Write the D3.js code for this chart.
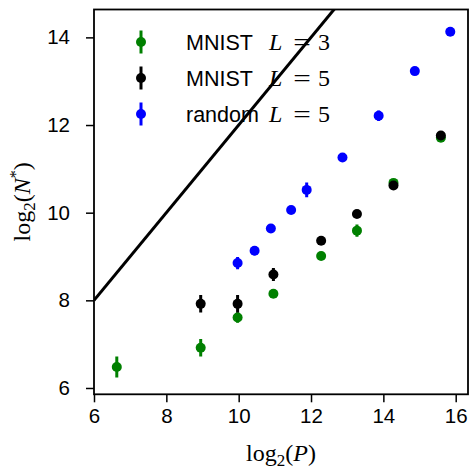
<!DOCTYPE html>
<html><head><meta charset="utf-8">
<script src="https://cdn.jsdelivr.net/npm/d3@7/dist/d3.min.js"></script>
<style>body{margin:0;background:#fff}svg{display:block}</style>
</head><body>
<svg id="c" width="469" height="470"></svg>
<script>
// ---- data ----
const mnist3X = [6.63, 8.95, 9.97, 10.96, 12.28, 13.27, 14.28, 15.59];
const mnist3Y = [6.48, 6.92, 7.61, 8.15, 9.01, 9.59, 10.68, 11.71];
const mnist3E = [0.24, 0.20, 0.12, 0.08, 0.06, 0.14, 0.06, 0.05];

const mnist5X = [8.95, 9.97, 10.96, 12.28, 13.27, 14.28, 15.59];
const mnist5Y = [7.92, 7.92, 8.59, 9.36, 9.97, 10.62, 11.76];
const mnist5E = [0.20, 0.20, 0.15, 0.06, 0.06, 0.06, 0.08];

const randX = [9.97, 10.44, 10.89, 11.45, 11.88, 12.87, 13.87, 14.87, 15.85];
const randY = [8.85, 9.13, 9.64, 10.06, 10.52, 11.26, 12.21, 13.23, 14.13];
const randE = [0.14, 0.10, 0.08, 0.06, 0.17, 0.08, 0.12, 0.06, 0.07];

const refLineX = [6, 16];
const refLineY = [8, 18];

const xTicks = [6, 8, 10, 12, 14, 16];
const yTicks = [6, 8, 10, 12, 14];

const seriesNames = ["MNIST", "MNIST", "random"];
const seriesL = ["3", "5", "5"];
const seriesColors = ["#008000", "#000000", "#0000ff"];

// ---- chart ----
const svg = d3.select("#c");
const L = 94, R = 468, T = 9.5, B = 394.3;
const x = d3.scaleLinear().domain([6, 16.34]).range([L, R]);
const y = d3.scaleLinear().domain([5.856, 14.636]).range([B, T]);

svg.append("defs").append("clipPath").attr("id", "clip")
  .append("rect").attr("x", L).attr("y", T).attr("width", R - L).attr("height", B - T);

const tickFont = "'Liberation Sans', Arial, sans-serif";
const serif = "'Liberation Serif', 'Times New Roman', serif";

// reference line
svg.append("path")
  .datum(refLineX.map((d, i) => [d, refLineY[i]]))
  .attr("clip-path", "url(#clip)")
  .attr("d", d3.line().x(d => x(d[0])).y(d => y(d[1])))
  .attr("fill", "none").attr("stroke", "#000").attr("stroke-width", 3);

// series
const series = [
  {X: mnist3X, Y: mnist3Y, E: mnist3E, c: seriesColors[0]},
  {X: mnist5X, Y: mnist5Y, E: mnist5E, c: seriesColors[1]},
  {X: randX, Y: randY, E: randE, c: seriesColors[2]}
];
const plot = svg.append("g").attr("clip-path", "url(#clip)");
series.forEach(s => {
  const g = plot.append("g");
  const pts = s.X.map((d, i) => ({x: d, y: s.Y[i], e: s.E[i]}));
  g.selectAll("line").data(pts).join("line")
    .attr("x1", d => x(d.x)).attr("x2", d => x(d.x))
    .attr("y1", d => y(d.y - d.e)).attr("y2", d => y(d.y + d.e))
    .attr("stroke", s.c).attr("stroke-width", 3);
  g.selectAll("circle").data(pts).join("circle")
    .attr("cx", d => x(d.x)).attr("cy", d => y(d.y)).attr("r", 5)
    .attr("fill", s.c);
});

// axes
const xa = svg.append("g").attr("transform", `translate(0,${B})`)
  .call(d3.axisBottom(x).tickValues(xTicks).tickSize(8).tickPadding(6).tickFormat(d3.format("d")));
const ya = svg.append("g").attr("transform", `translate(${L},0)`)
  .call(d3.axisLeft(y).tickValues(yTicks).tickSize(8).tickPadding(16).tickFormat(d3.format("d")));
[xa, ya].forEach(a => {
  a.select(".domain").remove();
  a.selectAll(".tick line").attr("stroke", "#000").attr("stroke-width", 1.5);
  a.selectAll(".tick text").attr("font-family", tickFont).attr("font-size", 20.5).attr("fill", "#000");
});

// frame
svg.append("rect").attr("x", L).attr("y", T).attr("width", R - L).attr("height", B - T)
  .attr("fill", "none").attr("stroke", "#000").attr("stroke-width", 1.8);

// axis labels
const xl = svg.append("text").attr("x", (L + R) / 2).attr("y", 461)
  .attr("text-anchor", "middle").attr("font-family", serif).attr("font-size", 24);
xl.append("tspan").text("log");
xl.append("tspan").attr("font-size", 17).attr("dy", 5).text("2");
xl.append("tspan").attr("dy", -5).text("(");
xl.append("tspan").attr("font-style", "italic").text("P");
xl.append("tspan").text(")");

const yl = svg.append("text").attr("transform", `translate(30,${(T + B) / 2}) rotate(-90)`)
  .attr("text-anchor", "middle").attr("font-family", serif).attr("font-size", 24);
yl.append("tspan").text("log");
yl.append("tspan").attr("font-size", 17).attr("dy", 5).text("2");
yl.append("tspan").attr("dy", -5).text("(");
yl.append("tspan").attr("font-style", "italic").text("N");
yl.append("tspan").attr("font-size", 16).attr("dy", -9).text("*");
yl.append("tspan").attr("dy", 9).text(")");

// legend
const lg = svg.append("g");
seriesNames.forEach((name, i) => {
  const cy = 42 + i * 36;
  lg.append("line").attr("x1", 141).attr("x2", 141).attr("y1", cy - 11.5).attr("y2", cy + 11.5)
    .attr("stroke", seriesColors[i]).attr("stroke-width", 3);
  lg.append("circle").attr("cx", 141).attr("cy", cy).attr("r", 5).attr("fill", seriesColors[i]);
  lg.append("text").attr("x", 186).attr("y", cy + 8).attr("font-size", 21.5)
    .attr("font-family", tickFont).text(name);
  lg.append("text").attr("x", 269).attr("y", cy + 8).attr("font-size", 24)
    .attr("font-family", serif).attr("font-style", "italic").text("L");
  lg.append("text").attr("x", 302).attr("y", cy + 8).attr("font-size", 24)
    .attr("text-anchor", "middle").attr("font-family", serif).text("=")
    .attr("transform", `translate(302,0) scale(1.3,1) translate(-302,0)`);
  lg.append("text").attr("x", 318).attr("y", cy + 8).attr("font-size", 24)
    .attr("font-family", serif).text(seriesL[i]);
});
</script>
</body></html>
